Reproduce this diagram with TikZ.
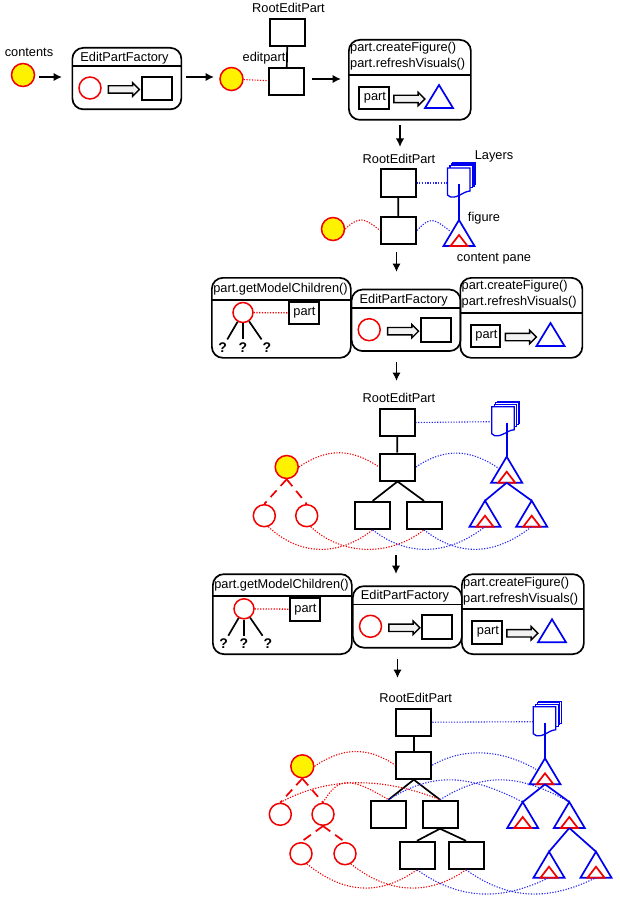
\documentclass[tikz,border=0pt]{standalone}
\usepackage{fontspec}
\setmainfont{Liberation Sans}
\usetikzlibrary{shapes.arrows,arrows.meta}
\definecolor{figblue}{RGB}{0,0,240}
\definecolor{modelred}{RGB}{240,0,0}
\tikzset{
  lbl/.style={inner sep=0pt, font=\fontsize{12.8}{14}\selectfont},
  qmark/.style={inner sep=0pt, outer sep=3pt, font=\fontsize{14}{14}\selectfont\bfseries},
  editbox/.style={rectangle, draw, fill=white, line width=2pt, inner sep=0pt,
                  minimum width=35pt, minimum height=27pt},
  partbox/.style={editbox, minimum width=29.5pt, minimum height=22.5pt},
  panel/.style={rectangle, draw, rounded corners=11pt, line width=1.7pt, inner sep=0pt, anchor=north west},
  rule/.style={line width=1.7pt},
  model/.style={circle, draw=modelred, fill=white, line width=1.5pt, inner sep=0pt, minimum size=22pt},
  contents/.style={model, fill=yellow, minimum size=23pt},
  hollow/.style={single arrow, draw, fill=gray!10, line width=1.4pt, inner xsep=0pt, inner ysep=3pt,
                 minimum width=13pt, minimum height=31pt, single arrow head extend=3pt,
                 single arrow head indent=0pt},
  flow/.style={-{Latex[length=8.5pt,width=8.5pt]}, line width=1.7pt},
  tree/.style={line width=1.7pt},
  figline/.style={figblue, line width=1.7pt, line join=miter},
  redline/.style={modelred, line width=1.7pt},
  redtree/.style={modelred, line width=1.7pt, dash pattern=on 9pt off 6pt on 9pt off 6pt},
  reddot/.style={modelred, line width=1.1pt, dash pattern=on 1.2pt off 1.5pt},
  bluedot/.style={figblue!85, line width=1.1pt, dash pattern=on 1.2pt off 1.5pt},
  pics/figtri/.style={code={
    \coordinate (-apex) at (0,0);
    \coordinate (-base) at (0,26);
    \coordinate (-side) at (-9,11);
    \draw[figline] (-apex) -- (15.5,26) -- (-15.5,26) -- cycle;
    \draw[redline] (0,15) -- (8.5,26) -- (-8.5,26) -- cycle;
  }},
  pics/layers/.style={code={
    \coordinate (-side) at (0,15);
    \coordinate (-mid) at (11.5,16);
    \foreach \d in {5.5,4,2.5}
      \draw[figline, fill=white, line width=1.3pt] (\d,-\d) rectangle (22.5+\d,22-\d);
    \draw[figline, fill=white, line width=1.3pt] (0,0) -- (22.5,0) -- (22.5,23)
      .. controls (14,24) and (12,30) .. (3,29) -- (0,27) -- cycle;
  }},
  pics/factory/.style={code={
    \node[panel, minimum width=109pt, minimum height=61.5pt] (-box) at (0,0) {};
    \draw[rule] (0,19.3) -- (109,19.3);
    \node[lbl] (-title) at (53,11) {EditPartFactory};
    \node[model] (-in) at (18.5,41) {};
    \node[hollow] (-conv) at (50.5,42.5) {};
    \node[editbox, minimum width=30pt, minimum height=23.5pt] (-out) at (85,41.5) {};
  }},
  pics/figpanel/.style={code={
    \node[panel, minimum width=122pt, minimum height=80pt] (-box) at (0,0) {};
    \draw[rule] (0,36) -- (122,36);
    \node[lbl, anchor=west] (-create) at (2,9.5) {part.createFigure()};
    \node[lbl, anchor=west] (-refresh) at (2,25.5) {part.refreshVisuals()};
    \node[partbox] (-part) at (26,59) {};
    \node[lbl] (-parttext) at (27,58.5) {part};
    \node[hollow] (-conv) at (59.5,60) {};
    \draw[figline] (91,46) -- (105,69) -- (77,69) -- cycle;
  }},
  pics/childpanel/.style={code={
    \node[panel, minimum width=139pt, minimum height=80pt] (-box) at (0,0) {};
    \draw[rule] (0,22.7) -- (139,22.7);
    \node[lbl] (-title) at (69.5,12) {part.getModelChildren()};
    \node[model, minimum size=20pt] (-node) at (32,35.5) {};
    \node[partbox] (-part) at (92.8,36) {};
    \node[lbl] (-parttext) at (93.5,36) {part};
    \node[qmark] (-q1) at (11.7,70.3) {?};
    \node[qmark] (-q2) at (32,70.3) {?};
    \node[qmark] (-q3) at (56,70.3) {?};
    \draw[reddot, line width=1.3pt] (-node) -- (-part);
    \foreach \q in {q1,q2,q3}
      \draw[tree] (-node) -- (-\q);
  }},
}
\begin{document}
\begin{tikzpicture}[x=1pt, y=-1pt]
  \useasboundingbox (0,0) rectangle (619,904);
  % stage arrows
  \foreach \n/\xa/\ya/\xb/\yb in {a1/39/77/62/77, a2/186/77/214/77, a3/311.5/79/341/79, a4/400/125/400/147,
      a5/396.5/252/396.5/272, a6/396.5/361.5/396.5/381, a7/396/554.5/396/574, a8/397.5/659/397.5/678}{
    \coordinate (\n s) at (\xa,\ya);
    \coordinate (\n e) at (\xb,\yb);
    \draw[flow] (\n s) -- (\n e);
  }

  % contents to editpart
  \node[lbl] (contentslbl) at (29,52) {contents};
  \node[contents] (m0) at (23,75) {};
  \pic (fac1) at (71.5,47) {factory};
  \node[contents] (m1) at (231.5,79) {};
  \node[lbl] (root1lbl) at (288.5,8) {RootEditPart};
  \node[lbl] (part1lbl) at (264,58) {editpart};
  \node[editbox] (root1) at (287.5,32.5) {};
  \node[editbox] (part1) at (286.5,81.5) {};
  \draw[tree] (root1) -- (part1);
  \draw[reddot] (m1) -- (part1);
  \pic (fig1) at (348,39) {figpanel};

  % figure for the contents
  \node[lbl] (root2lbl) at (399,159) {RootEditPart};
  \node[editbox] (root2) at (398,183) {};
  \node[editbox] (part2) at (398.5,230.5) {};
  \draw[tree] (root2) -- (part2);
  \node[contents] (m2) at (333,229) {};
  \pic (lay2) at (447.5,168) {layers};
  \pic (tri2) at (459,220) {figtri};
  \draw[figline] (tri2-apex |- lay2-mid) -- (tri2-apex);
  \node[lbl] (lay2lbl) at (494,156) {Layers};
  \node[lbl] (fig2lbl) at (484,218) {figure};
  \node[lbl] (pane2lbl) at (494,259) {content pane};
  \draw[bluedot] (root2) -- (lay2-side);
  \draw[reddot] (m2.east) .. controls +(14,-13) and +(-16,-13) .. (part2.west);
  \draw[bluedot] (part2.east) .. controls +(14,-15) and +(-16,-12) .. (tri2-side);

  % first children
  \pic (kid3) at (211,277) {childpanel};
  \pic (fac3) at (350.7,288.7) {factory};
  \pic (fig3) at (459.5,277) {figpanel};

  \node[lbl] (root4lbl) at (399,398.3) {RootEditPart};
  \node[editbox] (root4) at (397,422.7) {};
  \node[editbox] (part4) at (397.5,467) {};
  \node[editbox] (box4a) at (372.7,515.4) {};
  \node[editbox] (box4b) at (424,515.4) {};
  \draw[tree] (root4) -- (part4);
  \foreach \b in {box4a,box4b}
    \draw[tree] (part4.south) -- (\b.north);
  \node[contents] (m4) at (286.7,467) {};
  \node[model] (m4a) at (264.3,515.7) {};
  \node[model] (m4b) at (306.7,515.7) {};
  \foreach \b in {m4a,m4b}
    \draw[redtree] (m4.south) -- (\b.north);
  \pic (lay4) at (491.7,406.7) {layers};
  \pic (tri4) at (506.7,456.7) {figtri};
  \pic (tri4a) at (485,500.7) {figtri};
  \pic (tri4b) at (531.7,500.7) {figtri};
  \draw[figline] (tri4-apex |- lay4-mid) -- (tri4-apex);
  \foreach \b in {tri4a,tri4b}
    \draw[figline] (tri4-base) -- (\b-apex);
  \draw[bluedot] (root4) -- (lay4-side);
  \draw[reddot] (m4.east) .. controls +(28,-19) and +(-28,-19) .. (part4.west);
  \draw[bluedot] (part4.east) .. controls +(28,-19) and +(-28,-19) .. (tri4-side);
  \draw[reddot] (m4a.-70) .. controls +(30,28) and +(-36,28) .. (box4a.south);
  \draw[reddot] (m4b.-70) .. controls +(30,28) and +(-36,28) .. (box4b.south);
  \draw[bluedot] (box4a.south) .. controls +(36,28) and +(-36,28) .. (tri4a-base);
  \draw[bluedot] (box4b.south) .. controls +(36,28) and +(-36,28) .. (tri4b-base);

  % next children
  \pic (kid5) at (212,573.3) {childpanel};
  \pic (fac5) at (352,585.3) {factory};
  \pic (fig5) at (461,573.3) {figpanel};

  \node[lbl] (root6lbl) at (415.7,698.3) {RootEditPart};
  \node[editbox] (root6) at (413.8,722.3) {};
  \node[editbox] (part6) at (413.8,765.2) {};
  \node[editbox] (box6a) at (388.5,814.2) {};
  \node[editbox] (box6b) at (440,814.2) {};
  \node[editbox] (box6c) at (417,855.3) {};
  \node[editbox] (box6d) at (466,855.3) {};
  \draw[tree] (root6) -- (part6);
  \foreach \a/\b in {part6/box6a, part6/box6b, box6b/box6c, box6b/box6d}
    \draw[tree] (\a.south) -- (\b.north);
  \node[contents] (m6) at (302.3,766.3) {};
  \node[model] (m6a) at (280.3,814.3) {};
  \node[model] (m6b) at (323,814.3) {};
  \node[model] (m6c) at (301,853.7) {};
  \node[model] (m6d) at (345,853.7) {};
  \foreach \a/\b in {m6/m6a, m6/m6b, m6b/m6c, m6b/m6d}
    \draw[redtree] (\a.south) -- (\b.north);
  \pic (lay6) at (533.3,706.7) {layers};
  \pic (tri6) at (545,758.3) {figtri};
  \pic (tri6a) at (522.7,802) {figtri};
  \pic (tri6b) at (569.3,802) {figtri};
  \pic (tri6c) at (549,851.7) {figtri};
  \pic (tri6d) at (596,851.7) {figtri};
  \draw[figline] (tri6-apex |- lay6-mid) -- (tri6-apex);
  \foreach \a/\b in {tri6/tri6a, tri6/tri6b, tri6b/tri6c, tri6b/tri6d}
    \draw[figline] (\a-base) -- (\b-apex);
  \draw[bluedot] (root6) -- (lay6-side);
  \draw[reddot] (m6.east) .. controls +(28,-19) and +(-28,-19) .. (part6.west);
  \draw[bluedot] (part6.east) .. controls +(33,-19) and +(-33,-19) .. (tri6-side);
  \draw[reddot] (m6a.north) .. controls +(45,-25) and +(-60,-24) .. (box6b.north);
  \draw[reddot] (m6b.north) .. controls +(15,-25) and +(-40,-24) .. (box6a.north);
  \draw[bluedot] (box6a.north) .. controls +(45,-28) and +(-55,-28) .. (tri6a-apex);
  \draw[bluedot] (box6b.north) .. controls +(45,-28) and +(-50,-28) .. (tri6b-apex);
  \draw[reddot] (m6c.-60) .. controls +(35,28) and +(-40,28) .. (box6c.south);
  \draw[reddot] (m6d.-60) .. controls +(35,28) and +(-40,28) .. (box6d.south);
  \draw[bluedot] (box6c.south) .. controls +(45,32) and +(-45,22) .. (tri6c-base);
  \draw[bluedot] (box6d.south) .. controls +(45,32) and +(-45,22) .. (tri6d-base);
\end{tikzpicture}
\end{document}
